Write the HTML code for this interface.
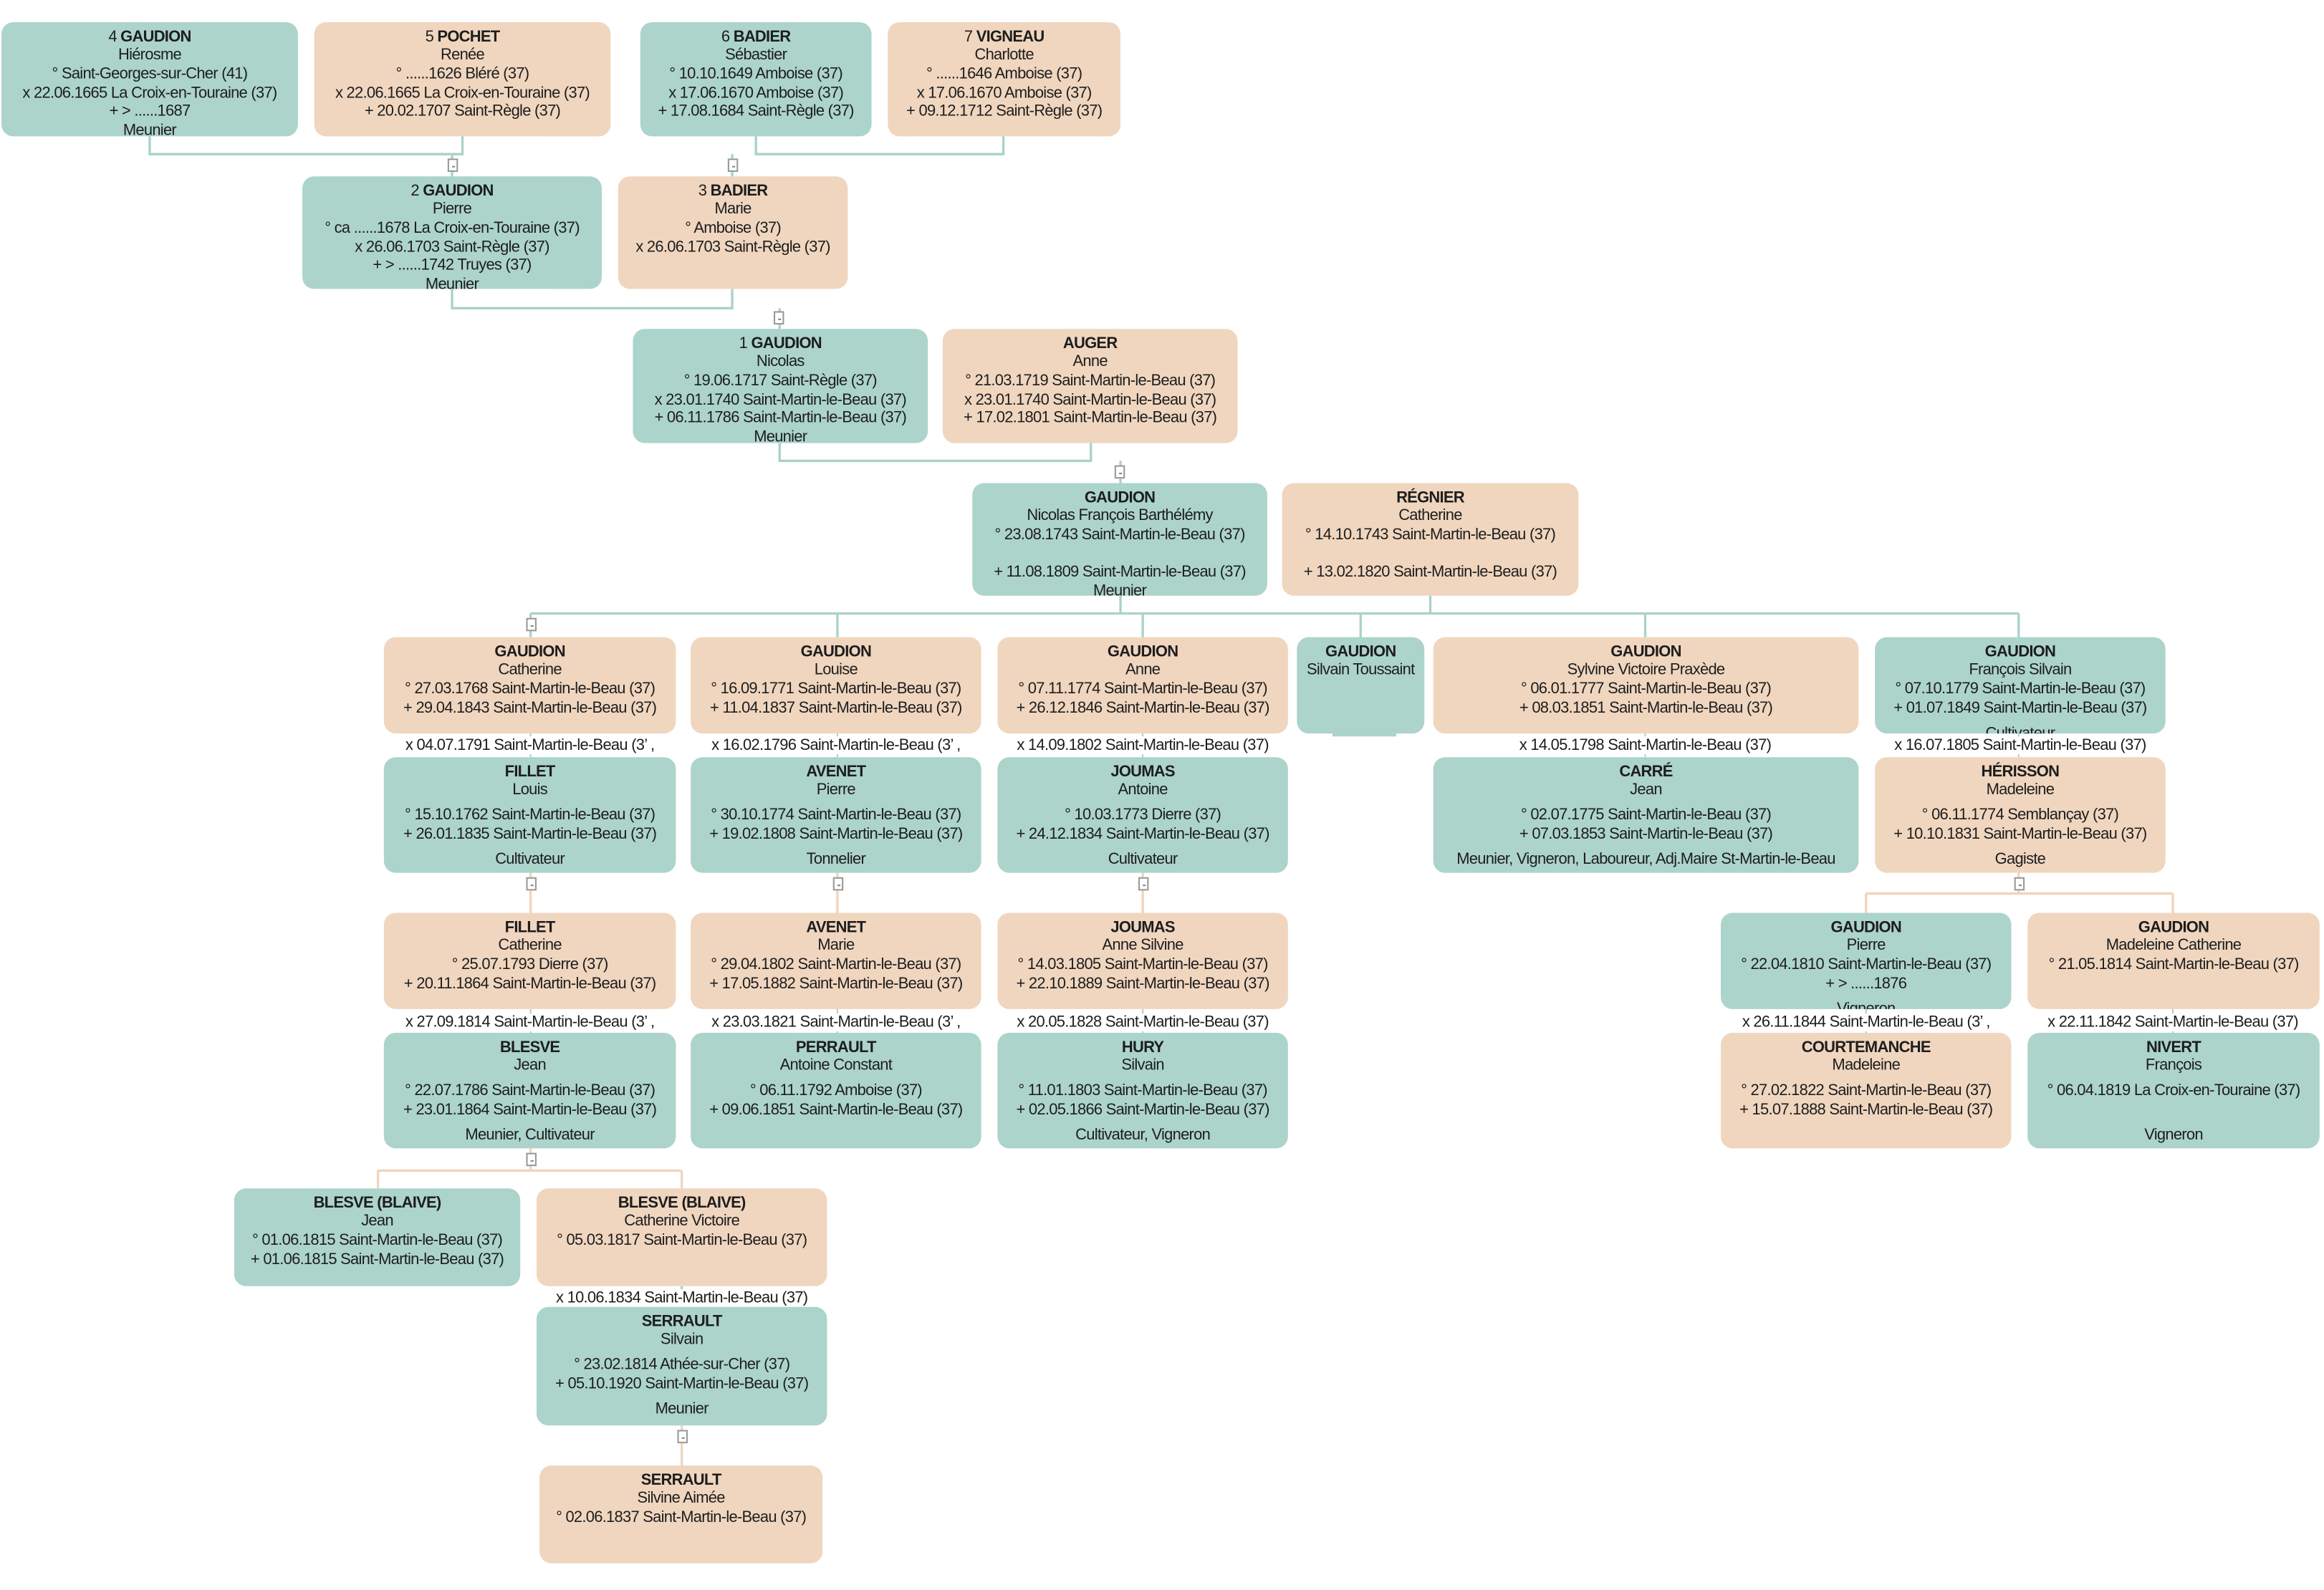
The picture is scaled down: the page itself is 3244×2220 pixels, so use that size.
<!DOCTYPE html>
<html><head><meta charset="utf-8">
<style>
html,body{margin:0;padding:0;background:#fff;}
body{width:3244px;height:2220px;overflow:hidden;position:relative;}
#w{position:absolute;left:0;top:0;width:1568px;height:1073px;transform:scale(2.0689);transform-origin:0 0;}
.b{position:absolute;border-radius:8px;text-align:center;font-family:"Liberation Sans",Arial,sans-serif;font-size:10.6px;line-height:12.7px;letter-spacing:-0.35px;color:#1d1d1d;padding-top:3.5px;box-sizing:border-box;white-space:nowrap;overflow:hidden;}
.t{background:#acd4cb;}
.p{background:#f0d6bf;}
.b b{font-weight:bold;}
.s{display:block;height:4.5px;}
.f{display:block;height:12.7px;}
.m{position:absolute;font-family:"Liberation Sans",Arial,sans-serif;font-size:10.6px;letter-spacing:-0.35px;color:#1d1d1d;white-space:nowrap;text-align:center;line-height:12px;background:#fff;}
.x{position:absolute;width:7px;height:9px;border:1px solid #999;background:#fff;box-sizing:border-box;}
.x:after{content:"";position:absolute;left:1.5px;top:3.5px;width:2.5px;height:0.8px;background:#888;}
svg{position:absolute;left:0;top:0;}
</style></head><body><div id="w">
<svg width="1568" height="1073" fill="none" stroke-width="1.6">
<g stroke="#a9d2c9">
<path d="M101,92V104H312V92M305,104V119"/>
<path d="M510,92V104H677V92M494,104V119"/>
<path d="M305,195V208H494V195M526,208V222"/>
<path d="M526,299V311H736V299M756,311V326"/>
<path d="M756,402V414M965,402V414M358,414H1362M358,414V430M565,414V430M771,414V430M918,414V430M1110,414V430M1362,414V430"/>
<path d="M358,495V511M565,495V511M771,495V511M1110,495V511M1362,495V511" stroke-width="1"/>
<path d="M358,681V697M565,681V697M771,681V697M1259,681V697M1466,681V697" stroke-width="1"/>
<path d="M460,868V882"/>
</g>
<g stroke="#efd5bd">
<path d="M358,589V616M565,589V616M771,589V616"/>
<path d="M1362,589V603M1259,603H1466M1259,603V616M1466,603V616"/>
<path d="M358,775V790M255,790H460M255,790V802M460,790V802"/>
<path d="M460,962V989"/>
</g>
</svg>

<div class="x" style="left:302px;top:107px"></div>
<div class="x" style="left:491px;top:107px"></div>
<div class="x" style="left:522px;top:210px"></div>
<div class="x" style="left:752px;top:314px"></div>
<div class="x" style="left:355px;top:417px"></div>
<div class="x" style="left:355px;top:592px"></div>
<div class="x" style="left:562px;top:592px"></div>
<div class="x" style="left:768px;top:592px"></div>
<div class="x" style="left:1359px;top:592px"></div>
<div class="x" style="left:355px;top:778px"></div>
<div class="x" style="left:457px;top:965px"></div>

<div class="b t" style="left:1px;top:15px;width:200px;height:77px">4 <b>GAUDION</b><br>Hiérosme<br>° Saint-Georges-sur-Cher (41)<br>x 22.06.1665 La Croix-en-Touraine (37)<br>+ &gt; ......1687<br>Meunier</div>
<div class="b p" style="left:212px;top:15px;width:200px;height:77px">5 <b>POCHET</b><br>Renée<br>° ......1626 Bléré (37)<br>x 22.06.1665 La Croix-en-Touraine (37)<br>+ 20.02.1707 Saint-Règle (37)</div>
<div class="b t" style="left:432px;top:15px;width:156px;height:77px">6 <b>BADIER</b><br>Sébastier<br>° 10.10.1649 Amboise (37)<br>x 17.06.1670 Amboise (37)<br>+ 17.08.1684 Saint-Règle (37)</div>
<div class="b p" style="left:599px;top:15px;width:157px;height:77px">7 <b>VIGNEAU</b><br>Charlotte<br>° ......1646 Amboise (37)<br>x 17.06.1670 Amboise (37)<br>+ 09.12.1712 Saint-Règle (37)</div>

<div class="b t" style="left:204px;top:119px;width:202px;height:76px">2 <b>GAUDION</b><br>Pierre<br>° ca ......1678 La Croix-en-Touraine (37)<br>x 26.06.1703 Saint-Règle (37)<br>+ &gt; ......1742 Truyes (37)<br>Meunier</div>
<div class="b p" style="left:417px;top:119px;width:155px;height:76px">3 <b>BADIER</b><br>Marie<br>° Amboise (37)<br>x 26.06.1703 Saint-Règle (37)</div>

<div class="b t" style="left:427px;top:222px;width:199px;height:77px">1 <b>GAUDION</b><br>Nicolas<br>° 19.06.1717 Saint-Règle (37)<br>x 23.01.1740 Saint-Martin-le-Beau (37)<br>+ 06.11.1786 Saint-Martin-le-Beau (37)<br>Meunier</div>
<div class="b p" style="left:636px;top:222px;width:199px;height:77px"><b>AUGER</b><br>Anne<br>° 21.03.1719 Saint-Martin-le-Beau (37)<br>x 23.01.1740 Saint-Martin-le-Beau (37)<br>+ 17.02.1801 Saint-Martin-le-Beau (37)</div>

<div class="b t" style="left:656px;top:326px;width:199px;height:76px"><b>GAUDION</b><br>Nicolas François Barthélémy<br>° 23.08.1743 Saint-Martin-le-Beau (37)<span class="f"></span>+ 11.08.1809 Saint-Martin-le-Beau (37)<br>Meunier</div>
<div class="b p" style="left:865px;top:326px;width:200px;height:76px"><b>RÉGNIER</b><br>Catherine<br>° 14.10.1743 Saint-Martin-le-Beau (37)<span class="f"></span>+ 13.02.1820 Saint-Martin-le-Beau (37)</div>

<div class="b p" style="left:259px;top:430px;width:197px;height:65px"><b>GAUDION</b><br>Catherine<br>° 27.03.1768 Saint-Martin-le-Beau (37)<br>+ 29.04.1843 Saint-Martin-le-Beau (37)</div>
<div class="b p" style="left:466px;top:430px;width:196px;height:65px"><b>GAUDION</b><br>Louise<br>° 16.09.1771 Saint-Martin-le-Beau (37)<br>+ 11.04.1837 Saint-Martin-le-Beau (37)</div>
<div class="b p" style="left:673px;top:430px;width:196px;height:65px"><b>GAUDION</b><br>Anne<br>° 07.11.1774 Saint-Martin-le-Beau (37)<br>+ 26.12.1846 Saint-Martin-le-Beau (37)</div>
<div class="b t" style="left:875px;top:430px;width:86px;height:65px"><b>GAUDION</b><br>Silvain Toussaint</div>
<div style="position:absolute;left:899px;top:494px;width:43px;height:3px;background:#acd4cb"></div>
<div class="b p" style="left:967px;top:430px;width:287px;height:65px"><b>GAUDION</b><br>Sylvine Victoire Praxède<br>° 06.01.1777 Saint-Martin-le-Beau (37)<br>+ 08.03.1851 Saint-Martin-le-Beau (37)</div>
<div class="b t" style="left:1265px;top:430px;width:196px;height:65px"><b>GAUDION</b><br>François Silvain<br>° 07.10.1779 Saint-Martin-le-Beau (37)<br>+ 01.07.1849 Saint-Martin-le-Beau (37)<span class="s"></span>Cultivateur</div>

<div class="m" style="left:259px;top:497px;width:197px">x 04.07.1791 Saint-Martin-le-Beau (3’ ,</div>
<div class="m" style="left:466px;top:497px;width:196px">x 16.02.1796 Saint-Martin-le-Beau (3’ ,</div>
<div class="m" style="left:673px;top:497px;width:196px">x 14.09.1802 Saint-Martin-le-Beau (37)</div>
<div class="m" style="left:1010px;top:497px;width:200px">x 14.05.1798 Saint-Martin-le-Beau (37)</div>
<div class="m" style="left:1263px;top:497px;width:200px">x 16.07.1805 Saint-Martin-le-Beau (37)</div>

<div class="b t" style="left:259px;top:511px;width:197px;height:78px"><b>FILLET</b><br>Louis<span class="s"></span>° 15.10.1762 Saint-Martin-le-Beau (37)<br>+ 26.01.1835 Saint-Martin-le-Beau (37)<span class="s"></span>Cultivateur</div>
<div class="b t" style="left:466px;top:511px;width:196px;height:78px"><b>AVENET</b><br>Pierre<span class="s"></span>° 30.10.1774 Saint-Martin-le-Beau (37)<br>+ 19.02.1808 Saint-Martin-le-Beau (37)<span class="s"></span>Tonnelier</div>
<div class="b t" style="left:673px;top:511px;width:196px;height:78px"><b>JOUMAS</b><br>Antoine<span class="s"></span>° 10.03.1773 Dierre (37)<br>+ 24.12.1834 Saint-Martin-le-Beau (37)<span class="s"></span>Cultivateur</div>
<div class="b t" style="left:967px;top:511px;width:287px;height:78px"><b>CARRÉ</b><br>Jean<span class="s"></span>° 02.07.1775 Saint-Martin-le-Beau (37)<br>+ 07.03.1853 Saint-Martin-le-Beau (37)<span class="s"></span>Meunier, Vigneron, Laboureur, Adj.Maire St-Martin-le-Beau</div>
<div class="b p" style="left:1265px;top:511px;width:196px;height:78px"><b>HÉRISSON</b><br>Madeleine<span class="s"></span>° 06.11.1774 Semblançay (37)<br>+ 10.10.1831 Saint-Martin-le-Beau (37)<span class="s"></span>Gagiste</div>

<div class="b p" style="left:259px;top:616px;width:197px;height:65px"><b>FILLET</b><br>Catherine<br>° 25.07.1793 Dierre (37)<br>+ 20.11.1864 Saint-Martin-le-Beau (37)</div>
<div class="b p" style="left:466px;top:616px;width:196px;height:65px"><b>AVENET</b><br>Marie<br>° 29.04.1802 Saint-Martin-le-Beau (37)<br>+ 17.05.1882 Saint-Martin-le-Beau (37)</div>
<div class="b p" style="left:673px;top:616px;width:196px;height:65px"><b>JOUMAS</b><br>Anne Silvine<br>° 14.03.1805 Saint-Martin-le-Beau (37)<br>+ 22.10.1889 Saint-Martin-le-Beau (37)</div>
<div class="b t" style="left:1161px;top:616px;width:196px;height:65px"><b>GAUDION</b><br>Pierre<br>° 22.04.1810 Saint-Martin-le-Beau (37)<br>+ &gt; ......1876<span class="s"></span>Vigneron</div>
<div class="b p" style="left:1368px;top:616px;width:197px;height:65px"><b>GAUDION</b><br>Madeleine Catherine<br>° 21.05.1814 Saint-Martin-le-Beau (37)</div>

<div class="m" style="left:259px;top:684px;width:197px">x 27.09.1814 Saint-Martin-le-Beau (3’ ,</div>
<div class="m" style="left:466px;top:684px;width:196px">x 23.03.1821 Saint-Martin-le-Beau (3’ ,</div>
<div class="m" style="left:671px;top:684px;width:200px">x 20.05.1828 Saint-Martin-le-Beau (37)</div>
<div class="m" style="left:1161px;top:684px;width:196px">x 26.11.1844 Saint-Martin-le-Beau (3’ ,</div>
<div class="m" style="left:1366px;top:684px;width:200px">x 22.11.1842 Saint-Martin-le-Beau (37)</div>

<div class="b t" style="left:259px;top:697px;width:197px;height:78px"><b>BLESVE</b><br>Jean<span class="s"></span>° 22.07.1786 Saint-Martin-le-Beau (37)<br>+ 23.01.1864 Saint-Martin-le-Beau (37)<span class="s"></span>Meunier, Cultivateur</div>
<div class="b t" style="left:466px;top:697px;width:196px;height:78px"><b>PERRAULT</b><br>Antoine Constant<span class="s"></span>° 06.11.1792 Amboise (37)<br>+ 09.06.1851 Saint-Martin-le-Beau (37)</div>
<div class="b t" style="left:673px;top:697px;width:196px;height:78px"><b>HURY</b><br>Silvain<span class="s"></span>° 11.01.1803 Saint-Martin-le-Beau (37)<br>+ 02.05.1866 Saint-Martin-le-Beau (37)<span class="s"></span>Cultivateur, Vigneron</div>
<div class="b p" style="left:1161px;top:697px;width:196px;height:78px"><b>COURTEMANCHE</b><br>Madeleine<span class="s"></span>° 27.02.1822 Saint-Martin-le-Beau (37)<br>+ 15.07.1888 Saint-Martin-le-Beau (37)</div>
<div class="b t" style="left:1368px;top:697px;width:197px;height:78px"><b>NIVERT</b><br>François<span class="s"></span>° 06.04.1819 La Croix-en-Touraine (37)<span class="f"></span><span class="s"></span>Vigneron</div>

<div class="b t" style="left:158px;top:802px;width:193px;height:66px"><b>BLESVE (BLAIVE)</b><br>Jean<br>° 01.06.1815 Saint-Martin-le-Beau (37)<br>+ 01.06.1815 Saint-Martin-le-Beau (37)</div>
<div class="b p" style="left:362px;top:802px;width:196px;height:66px"><b>BLESVE (BLAIVE)</b><br>Catherine Victoire<br>° 05.03.1817 Saint-Martin-le-Beau (37)</div>
<div class="m" style="left:360px;top:870px;width:200px">x 10.06.1834 Saint-Martin-le-Beau (37)</div>

<div class="b t" style="left:362px;top:882px;width:196px;height:80px"><b>SERRAULT</b><br>Silvain<span class="s"></span>° 23.02.1814 Athée-sur-Cher (37)<br>+ 05.10.1920 Saint-Martin-le-Beau (37)<span class="s"></span>Meunier</div>

<div class="b p" style="left:364px;top:989px;width:191px;height:66px"><b>SERRAULT</b><br>Silvine Aimée<br>° 02.06.1837 Saint-Martin-le-Beau (37)</div>
</div></body></html>
